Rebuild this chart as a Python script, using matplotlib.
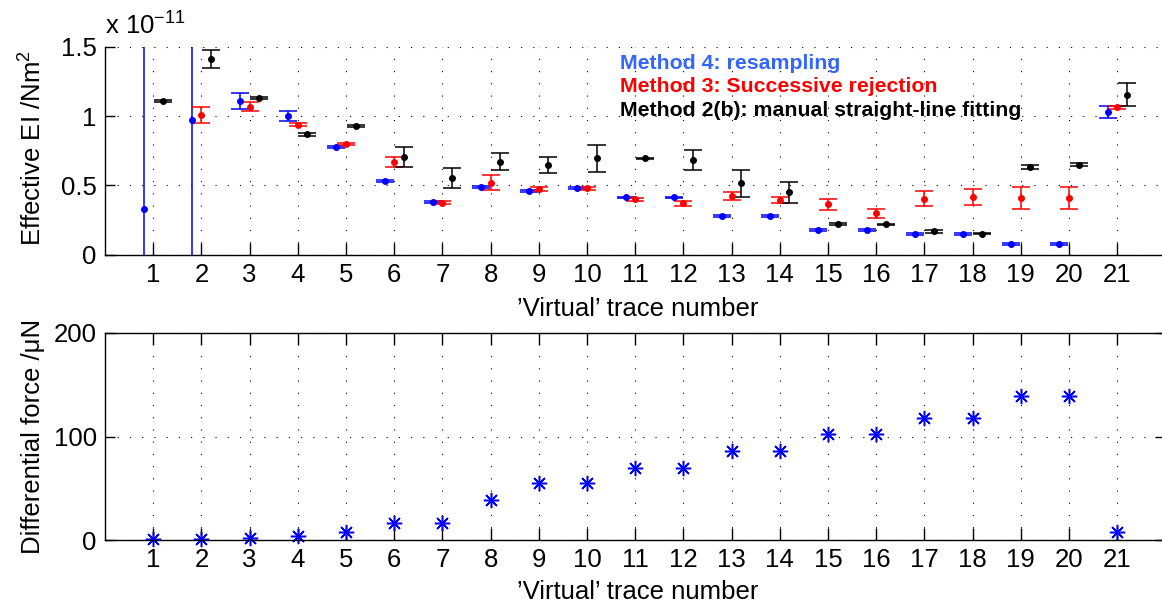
import numpy as np
import matplotlib.pyplot as plt
from matplotlib.ticker import FormatStrFormatter

plt.rcParams['font.family'] = ['Liberation Sans', 'DejaVu Sans']
plt.rcParams['mathtext.fontset'] = 'custom'
plt.rcParams['mathtext.rm'] = 'Liberation Sans'
plt.rcParams['mathtext.it'] = 'Liberation Sans:italic'

trace = np.arange(1, 22)

# Effective EI in units of 1e-11 N m^2, with error half-widths
ei_m4 = [0.327, 0.973, 1.110, 1.000, 0.779, 0.531, 0.380, 0.488, 0.459, 0.479, 0.414,
         0.414, 0.279, 0.279, 0.180, 0.178, 0.151, 0.151, 0.077, 0.077, 1.029]
err_m4 = [5.0, 5.0, 0.060, 0.038, 0.008, 0.008, 0.008, 0.008, 0.008, 0.008, 0.006,
          0.006, 0.006, 0.006, 0.006, 0.006, 0.006, 0.006, 0.006, 0.006, 0.042]

ei_m3 = [np.nan, 1.009, 1.070, 0.940, 0.800, 0.671, 0.375, 0.519, 0.474, 0.479, 0.399,
         0.370, 0.425, 0.397, 0.363, 0.298, 0.404, 0.418, 0.409, 0.409, 1.065]
err_m3 = [np.nan, 0.060, 0.035, 0.012, 0.010, 0.035, 0.010, 0.053, 0.015, 0.012, 0.010,
          0.017, 0.031, 0.023, 0.037, 0.032, 0.055, 0.058, 0.080, 0.080, 0.010]

ei_m2b = [1.110, 1.411, 1.130, 0.870, 0.928, 0.704, 0.555, 0.673, 0.649, 0.695, 0.697,
          0.683, 0.515, 0.450, 0.224, 0.219, 0.169, 0.151, 0.634, 0.649, 1.156]
err_m2b = [0.005, 0.065, 0.006, 0.010, 0.008, 0.073, 0.073, 0.064, 0.057, 0.100, 0.004,
           0.072, 0.095, 0.078, 0.006, 0.006, 0.010, 0.004, 0.013, 0.010, 0.081]

# differential force in uN
force = [1, 1, 2, 4, 8, 16, 16, 39, 55, 55, 70, 70, 86, 86, 102, 102, 118, 118, 139, 139, 8]

W, H = 1162, 612
fig = plt.figure(figsize=(W / 100, H / 100), dpi=100)
ax1 = fig.add_axes([105 / W, 1 - 254.7 / H, 1060.4 / W, 207.7 / H])
ax2 = fig.add_axes([105 / W, 1 - 540 / H, 1060.4 / W, 207 / H])

grid_kw = dict(linestyle=(0, (1, 10)), linewidth=0.8, color='k')
fs = 18.5

# top panel: three methods side by side
kw = dict(fmt='o', markersize=4, capsize=6.8, elinewidth=1.1, capthick=1.1)
ax1.errorbar(trace - 0.2, ei_m4, yerr=err_m4, color='#0000ff', **kw)
ax1.errorbar(trace, ei_m3, yerr=err_m3, color='#ff0000', **kw)
ax1.errorbar(trace + 0.2, ei_m2b, yerr=err_m2b, color='k', **kw)

ax1.set_xlim(0, 22)
ax1.set_ylim(0, 1.5)
ax1.set_xticks(trace)
ax1.set_yticks([0, 0.5, 1, 1.5])
ax1.yaxis.set_major_formatter(FormatStrFormatter('%g'))
ax1.spines['top'].set_visible(False)
ax1.spines['right'].set_visible(False)
ax1.grid(True, **grid_kw)
ax1.set_axisbelow(True)
ax1.tick_params(axis='both', direction='in', labelsize=fs, width=1.0)
ax1.tick_params(axis='x', length=8.6, pad=6)
ax1.tick_params(axis='y', length=7.2, pad=6)

# bottom panel: differential force
ax2.plot(trace, force, linestyle='none', marker=(8, 2, 0), markersize=11,
         markeredgewidth=1.1, color='#0000ff', clip_on=False)
ax2.set_xlim(0, 22)
ax2.set_ylim(0, 200)
ax2.set_xticks(trace)
ax2.set_yticks([0, 100, 200])
ax2.grid(True, **grid_kw)
ax2.set_axisbelow(True)
ax2.tick_params(axis='both', direction='in', labelsize=fs, width=1.0,
                top=True, right=True)
ax2.tick_params(axis='x', length=8.6, pad=6)
ax2.tick_params(axis='y', length=7.2, pad=6)

for ax in (ax1, ax2):
    for sp in ax.spines.values():
        sp.set_linewidth(1.0)

# axis labels
fig.text(105 / W, 1 - 35 / H, 'x 10$^{-11}$', fontsize=fs, va='baseline', ha='left')
fig.text(33 / W, 1 - 148 / H, 'Effective EI /Nm$^2$', fontsize=fs, rotation=90,
         ha='center', va='center')
fig.text(33 / W, 1 - 436 / H, 'Differential force /μN', fontsize=fs, rotation=90,
         ha='center', va='center')
fig.text(638 / W, 1 - 316 / H, '’Virtual’ trace number', fontsize=fs,
         ha='center', va='baseline')
fig.text(638 / W, 1 - 599 / H, '’Virtual’ trace number', fontsize=fs,
         ha='center', va='baseline')

# method key
fig.text(620 / W, 1 - 69 / H, 'Method 4: resampling', color='#3366ff',
         fontsize=15.3, fontweight='bold', va='baseline')
fig.text(620 / W, 1 - 92.3 / H, 'Method 3: Successive rejection', color='#ff0000',
         fontsize=15.3, fontweight='bold', va='baseline')
fig.text(620 / W, 1 - 115.6 / H, 'Method 2(b): manual straight-line fitting', color='k',
         fontsize=15.3, fontweight='bold', va='baseline')

fig.savefig('out.png', dpi=100)
